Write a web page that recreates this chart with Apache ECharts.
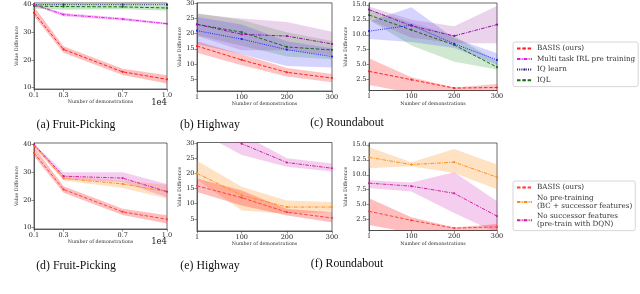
<!DOCTYPE html>
<html><head><meta charset="utf-8">
<script src="https://cdn.jsdelivr.net/npm/echarts@6/dist/echarts.min.js"></script>
<style>html,body{margin:0;padding:0;background:#fff}#c{width:640px;height:294px}</style>
</head><body><div id="c"></div>
<script>
// ---------- data ----------
const fruitX = [0.1, 0.3, 0.7, 1.0];
const demoX = [1, 100, 200, 300];
const fruitXTicks = [0.1, 0.3, 0.7, 1.0];
const demoXTicks = [1, 100, 200, 300];
const fruitYTicks = [10, 20, 30, 40];
const highwayYTicks = [5, 10, 15, 20, 25, 30];
const roundYTicks = [2.5, 5.0, 7.5, 10.0, 12.5, 15.0];

// (a) Fruit-Picking top
const aBasis = [37.0, 23.8, 15.7, 13.0];
const aBasisLo = [35.8, 22.6, 14.6, 11.5];
const aBasisHi = [39.2, 25.0, 16.8, 14.5];
const aMulti = [40.0, 36.4, 34.8, 33.1];
const aMultiLo = [39.6, 35.8, 34.3, 32.7];
const aMultiHi = [40.3, 37.0, 35.3, 33.5];
const aIQ = [40.0, 40.0, 40.0, 40.0];
const aIQL = [39.5, 39.3, 39.2, 38.8];
const aIQLLo = [38.6, 38.2, 38.3, 37.9];
const aIQLHi = [40.2, 40.2, 40.2, 40.0];
// (b) Highway top
const bBasis = [15.9, 11.3, 7.2, 5.3];
const bBasisLo = [13.7, 9.5, 5.8, 3.9];
const bBasisHi = [17.5, 13.2, 8.6, 6.6];
const bMulti = [23.1, 19.8, 19.2, 16.6];
const bMultiLo = [19.2, 14.5, 14.5, 12.8];
const bMultiHi = [26.5, 25.0, 23.9, 20.6];
const bIQ = [21.0, 18.2, 14.7, 12.4];
const bIQLo = [16.5, 13.2, 9.3, 8.8];
const bIQHi = [25.5, 23.0, 17.5, 15.2];
const bIQL = [23.1, 20.5, 15.6, 14.6];
const bIQLLo = [19.5, 16.0, 12.4, 11.5];
const bIQLHi = [26.8, 24.5, 20.5, 17.6];
// (c) Roundabout top
const cBasis = [3.9, 2.5, 1.1, 1.2];
const cBasisLo = [1.6, 0.3, 0.0, 0.6];
const cBasisHi = [6.1, 2.9, 1.2, 1.8];
const cMulti = [14.2, 11.5, 9.8, 11.7];
const cMultiLo = [12.5, 9.5, 8.6, 8.6];
const cMultiHi = [14.7, 12.5, 11.4, 14.8];
const cIQ = [10.6, 11.6, 8.5, 5.8];
const cIQLo = [9.3, 8.8, 7.8, 5.0];
const cIQHi = [12.2, 14.6, 9.4, 6.9];
const cIQL = [13.3, 10.8, 8.3, 4.6];
const cIQLLo = [12.5, 8.2, 5.5, 4.2];
const cIQLHi = [14.2, 12.0, 9.8, 5.6];
// (d) Fruit-Picking bottom
const dBasis = [37.0, 23.8, 15.7, 13.0];
const dBasisLo = [35.8, 22.6, 14.6, 11.5];
const dBasisHi = [39.2, 25.0, 16.8, 14.5];
const dNoPre = [39.6, 27.8, 25.8, 23.0];
const dNoPreLo = [39.0, 27.0, 24.3, 20.5];
const dNoPreHi = [40.2, 28.8, 27.0, 25.5];
const dNoSF = [40.0, 28.6, 27.9, 23.0];
const dNoSFLo = [39.5, 27.5, 26.5, 21.0];
const dNoSFHi = [40.4, 30.0, 30.0, 25.8];
// (e) Highway bottom
const eBasis = [15.9, 12.0, 7.2, 5.3];
const eBasisLo = [13.9, 9.4, 6.1, 3.9];
const eBasisHi = [18.3, 14.4, 8.3, 7.2];
const eNoPre = [20.0, 12.8, 8.9, 8.9];
const eNoPreLo = [18.0, 7.8, 6.7, 7.2];
const eNoPreHi = [24.2, 15.6, 11.1, 10.6];
const eNoSF = [37.0, 29.8, 23.6, 21.7];
const eNoSFLo = [34.0, 26.1, 22.2, 20.6];
const eNoSFHi = [40.0, 33.0, 25.0, 23.3];
// (f) Roundabout bottom
const fBasis = [3.9, 2.4, 1.1, 1.3];
const fBasisLo = [1.6, 0.3, 0.0, 0.6];
const fBasisHi = [6.1, 2.9, 1.2, 1.8];
const fNoPre = [12.9, 11.7, 12.1, 9.6];
const fNoPreLo = [11.1, 11.4, 10.3, 7.6];
const fNoPreHi = [14.6, 12.1, 14.3, 11.7];
const fNoSF = [8.6, 8.1, 6.9, 3.1];
const fNoSFLo = [7.8, 7.2, 3.6, 0.3];
const fNoSFHi = [9.1, 8.7, 10.4, 5.6];

const legendTop = ['BASIS (ours)', 'Multi task IRL pre training', 'IQ learn', 'IQL'];
const legendBottom = ['BASIS (ours) ', 'No pre-training\n(BC + successor features)', 'No successor features\n(pre-train with DQN)'];
const captions = ['(a) Fruit-Picking', '(b) Highway', '(c) Roundabout', '(d) Fruit-Picking', '(e) Highway', '(f) Roundabout'];

// ---------- layout ----------
const SERIF = 'DejaVu Serif';
const grids = [
  {left: 34, top: 3, width: 133, height: 86},
  {left: 197, top: 2.5, width: 135, height: 88.5},
  {left: 369, top: 3, width: 128, height: 87.5},
  {left: 34, top: 143, width: 133, height: 86},
  {left: 197, top: 142.5, width: 135, height: 88.5},
  {left: 369, top: 143, width: 128, height: 87.5}
];
const kinds = ['fruit', 'hw', 'rb', 'fruit', 'hw', 'rb'];
const yNameGap = [14, 7, 17, 14, 7, 17];

const xAxes = kinds.map((k, i) => {
  const fruit = k === 'fruit';
  const ticks = fruit ? fruitXTicks : demoXTicks;
  return {
    type: 'value', gridIndex: i,
    min: fruit ? 0.1 : 1, max: fruit ? 1.0 : 300,
    splitLine: {show: false},
    axisLine: {lineStyle: {color: '#444', width: 0.8}},
    axisTick: {length: 2.5, lineStyle: {color: '#444', width: 0.6}, customValues: ticks},
    axisLabel: {customValues: ticks, fontFamily: SERIF, fontSize: 6.5, color: '#222', margin: 2.5,
      formatter: v => fruit ? v.toFixed(1) : String(Math.round(v))},
    name: 'Number of demonstrations', nameLocation: 'middle', nameGap: 9.5,
    nameTextStyle: {fontFamily: SERIF, fontSize: 4.8, color: '#333'}
  };
});
const yAxes = kinds.map((k, i) => {
  let min, max, ticks, fmt;
  if (k === 'fruit') { min = 9.5; max = 40.6; ticks = fruitYTicks; fmt = v => String(Math.round(v)); }
  else if (k === 'hw') { min = 1.0; max = 30.2; ticks = highwayYTicks; fmt = v => String(Math.round(v)); }
  else { min = 0.7; max = 15.3; ticks = roundYTicks; fmt = v => v.toFixed(1); }
  return {
    type: 'value', gridIndex: i, min, max,
    splitLine: {show: false},
    axisLine: {show: true, lineStyle: {color: '#444', width: 0.8}},
    axisTick: {show: true, length: 2.5, lineStyle: {color: '#444', width: 0.6}, customValues: ticks},
    axisLabel: {customValues: ticks, formatter: fmt, fontFamily: SERIF, fontSize: 6.5, color: '#222', margin: 2.5},
    name: 'Value Difference', nameLocation: 'middle', nameGap: yNameGap[i], nameRotate: 90,
    nameTextStyle: {fontFamily: SERIF, fontSize: 4.8, color: '#333'}
  };
});

const series = [];
function band(g, xs, lo, hi, fill) {
  series.push({
    type: 'custom', xAxisIndex: g, yAxisIndex: g, clip: true, silent: true, z: 1,
    data: xs.map((x, i) => [x, lo[i], hi[i]]),
    renderItem: (params, api) => {
      if (params.dataIndex !== 0) return null;
      const top = xs.map((x, i) => api.coord([x, hi[i]]));
      const bot = xs.map((x, i) => api.coord([x, lo[i]])).reverse();
      return {type: 'polygon', shape: {points: top.concat(bot)}, style: {fill: fill}};
    }
  });
}
function line(g, name, xs, ys, color, dash) {
  series.push({
    type: 'line', name: name, xAxisIndex: g, yAxisIndex: g, z: 3,
    data: xs.map((x, i) => [x, ys[i]]),
    symbol: 'circle', symbolSize: 2.2, showSymbol: true,
    itemStyle: {color: color},
    lineStyle: {color: color, width: 1, type: dash},
    clip: true, animation: false
  });
}
const DASH = [3.5, 1.8];
const DASHDOT = [3.5, 1.2, 1, 1.2];
const DOT = [1, 1.2];

// (a)
band(0, fruitX, aIQLLo, aIQLHi, 'rgba(40,170,40,0.28)');
band(0, fruitX, aMultiLo, aMultiHi, 'rgba(230,40,230,0.3)');
band(0, fruitX, aBasisLo, aBasisHi, 'rgba(255,40,40,0.3)');
line(0, 'IQL', fruitX, aIQL, '#1a6a1a', DASH);
line(0, 'IQ learn', fruitX, aIQ, '#202070', DOT);
line(0, 'Multi task IRL pre training', fruitX, aMulti, '#e020e0', DASHDOT);
line(0, 'BASIS (ours)', fruitX, aBasis, '#ff2020', DASH);
// (b)
band(1, demoX, bIQLLo, bIQLHi, 'rgba(40,150,40,0.22)');
band(1, demoX, bIQLo, bIQHi, 'rgba(60,60,255,0.22)');
band(1, demoX, bMultiLo, bMultiHi, 'rgba(160,60,170,0.22)');
band(1, demoX, bBasisLo, bBasisHi, 'rgba(255,40,40,0.28)');
line(1, 'IQL', demoX, bIQL, '#1a6a1a', DASH);
line(1, 'IQ learn', demoX, bIQ, '#2020ff', DOT);
line(1, 'Multi task IRL pre training', demoX, bMulti, '#9010a0', DASHDOT);
line(1, 'BASIS (ours)', demoX, bBasis, '#ff2020', DASH);
// (c)
band(2, demoX, cIQLLo, cIQLHi, 'rgba(40,150,40,0.22)');
band(2, demoX, cIQLo, cIQHi, 'rgba(60,60,255,0.22)');
band(2, demoX, cMultiLo, cMultiHi, 'rgba(160,60,170,0.22)');
band(2, demoX, cBasisLo, cBasisHi, 'rgba(255,40,40,0.28)');
line(2, 'IQL', demoX, cIQL, '#1a6a1a', DASH);
line(2, 'IQ learn', demoX, cIQ, '#2020ff', DOT);
line(2, 'Multi task IRL pre training', demoX, cMulti, '#9010a0', DASHDOT);
line(2, 'BASIS (ours)', demoX, cBasis, '#ff2020', DASH);
// (d)
const N_BASIS = legendBottom[0], N_NOPRE = legendBottom[1], N_NOSF = legendBottom[2];
band(3, fruitX, dNoPreLo, dNoPreHi, 'rgba(255,160,60,0.3)');
band(3, fruitX, dNoSFLo, dNoSFHi, 'rgba(215,60,190,0.25)');
band(3, fruitX, dBasisLo, dBasisHi, 'rgba(255,40,40,0.3)');
line(3, N_NOPRE, fruitX, dNoPre, '#ff8c1a', DASHDOT);
line(3, N_NOSF, fruitX, dNoSF, '#d0209f', DASHDOT);
line(3, N_BASIS, fruitX, dBasis, '#ff4040', DASH);
// (e)
band(4, demoX, eNoPreLo, eNoPreHi, 'rgba(255,160,60,0.3)');
band(4, demoX, eNoSFLo, eNoSFHi, 'rgba(215,60,190,0.25)');
band(4, demoX, eBasisLo, eBasisHi, 'rgba(255,40,40,0.3)');
line(4, N_NOPRE, demoX, eNoPre, '#ff8c1a', DASHDOT);
line(4, N_NOSF, demoX, eNoSF, '#d0209f', DASHDOT);
line(4, N_BASIS, demoX, eBasis, '#ff4040', DASH);
// (f)
band(5, demoX, fNoPreLo, fNoPreHi, 'rgba(255,160,60,0.3)');
band(5, demoX, fNoSFLo, fNoSFHi, 'rgba(215,60,190,0.25)');
band(5, demoX, fBasisLo, fBasisHi, 'rgba(255,40,40,0.3)');
line(5, N_NOPRE, demoX, fNoPre, '#ff8c1a', DASHDOT);
line(5, N_NOSF, demoX, fNoSF, '#d0209f', DASHDOT);
line(5, N_BASIS, demoX, fBasis, '#ff4040', DASH);

const capPos = [[76, 125], [210, 125], [347, 123], [76, 266], [210, 266], [347, 264]];
const graphic = captions.map((t, i) => ({
  type: 'text', x: capPos[i][0], y: capPos[i][1], silent: true,
  style: {text: t, fill: '#111', font: '11.8px "Liberation Serif"', textAlign: 'center', textVerticalAlign: 'middle'}
}));
graphic.push({type: 'text', x: 167, y: 103, style: {text: '1e4', fill: '#222', font: '8.5px "DejaVu Serif"', textAlign: 'right', textVerticalAlign: 'middle'}});
graphic.push({type: 'text', x: 167, y: 242, style: {text: '1e4', fill: '#222', font: '8.5px "DejaVu Serif"', textAlign: 'right', textVerticalAlign: 'middle'}});

const legendCommon = {
  orient: 'vertical', backgroundColor: '#fff', borderColor: '#ccc', borderWidth: 0.8, borderRadius: 2,
  itemWidth: 15, itemHeight: 2.5, itemGap: 2.8, selectedMode: false,
  textStyle: {fontFamily: SERIF, fontSize: 7.2, color: '#333', lineHeight: 7.8}
};

const chart = echarts.init(document.getElementById('c'), null, {renderer: 'canvas'});
chart.setOption({
  animation: false,
  grid: grids.map(g => Object.assign({show: true, borderColor: '#444', borderWidth: 0.8, backgroundColor: 'transparent', containLabel: false}, g)),
  xAxis: xAxes,
  yAxis: yAxes,
  series: series,
  legend: [
    Object.assign({}, legendCommon, {left: 513, top: 42, padding: [2.5, 3, 2.5, 3], data: legendTop}),
    Object.assign({}, legendCommon, {left: 513, top: 181, padding: [2.5, 3, 2.5, 3], data: legendBottom})
  ],
  graphic: graphic
});
</script></body></html>
